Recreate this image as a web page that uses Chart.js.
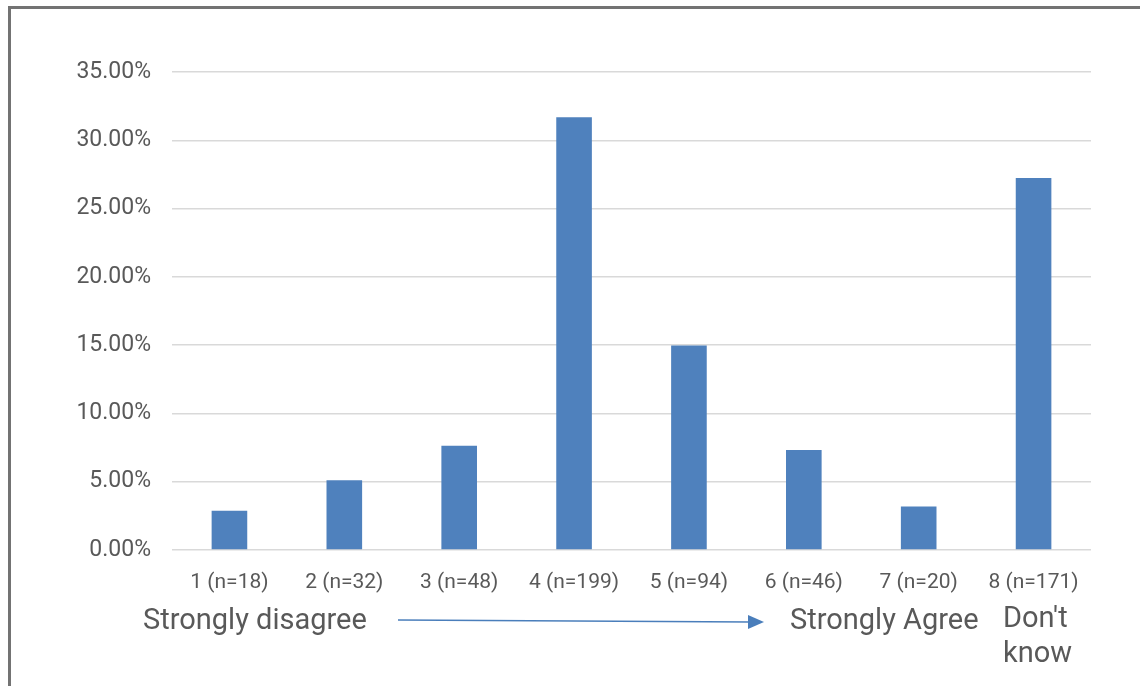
<!DOCTYPE html>
<html>
<head>
<meta charset="utf-8">
<script src="https://cdn.jsdelivr.net/npm/chart.js@4/dist/chart.umd.min.js"></script>
<style>
  html, body { margin: 0; padding: 0; background: #ffffff; }
  #wrap { width: 1140px; height: 686px; position: relative; }
</style>
</head>
<body>
<div id="wrap"><canvas id="c" width="1140" height="686"></canvas></div>
<script>
// Response categories and their share of respondents (%)
const categories = ['1 (n=18)', '2 (n=32)', '3 (n=48)', '4 (n=199)', '5 (n=94)', '6 (n=46)', '7 (n=20)', '8 (n=171)'];
const shares = [2.87, 5.10, 7.64, 31.69, 14.97, 7.32, 3.18, 27.23];
const yTicks = [0, 5, 10, 15, 20, 25, 30, 35];
const scaleNotes = ['Strongly disagree', 'Strongly Agree', "Don't", 'know'];

const FONT = 'Roboto, "Open Sans", sans-serif';
const TEXT = '#595959';
const BAR = '#4f81bd';

// Frame, scale captions and the direction arrow below the axis
const decorations = {
  id: 'decorations',
  afterDraw(chart) {
    const ctx = chart.ctx;
    ctx.save();
    // outer frame
    ctx.strokeStyle = '#737373';
    ctx.lineWidth = 3;
    ctx.beginPath();
    ctx.moveTo(9.5, 700);
    ctx.lineTo(9.5, 7.5);
    ctx.lineTo(1150, 7.5);
    ctx.stroke();

    ctx.fillStyle = TEXT;
    ctx.font = '29px ' + FONT;
    ctx.textBaseline = 'middle';
    ctx.textAlign = 'left';
    ctx.fillText(scaleNotes[0], 143, 622);
    ctx.fillText(scaleNotes[1], 790, 622);
    ctx.fillText(scaleNotes[2], 1003, 620);
    ctx.fillText(scaleNotes[3], 1003, 655);

    // arrow from "disagree" toward "agree"
    ctx.strokeStyle = '#4a7ebb';
    ctx.fillStyle = '#4a7ebb';
    ctx.lineWidth = 1.5;
    ctx.beginPath();
    ctx.moveTo(398, 620);
    ctx.lineTo(750, 622);
    ctx.stroke();
    ctx.beginPath();
    ctx.moveTo(764, 622);
    ctx.lineTo(748, 615);
    ctx.lineTo(748, 629);
    ctx.closePath();
    ctx.fill();
    ctx.restore();
  }
};

new Chart(document.getElementById('c'), {
  type: 'bar',
  data: {
    labels: categories,
    datasets: [{
      data: shares,
      backgroundColor: BAR,
      borderWidth: 0,
      barPercentage: 0.62,
      categoryPercentage: 0.5
    }]
  },
  options: {
    responsive: false,
    animation: false,
    events: [],
    layout: { padding: { left: 0, right: 49, top: 72, bottom: 76 } },
    plugins: { legend: { display: false }, tooltip: { enabled: false } },
    scales: {
      x: {
        grid: { display: false },
        border: { display: false },
        ticks: {
          color: TEXT,
          font: { family: FONT, size: 21 },
          padding: 12,
          maxRotation: 0,
          autoSkip: false
        },
        afterFit(scale) { scale.height = 60; }
      },
      y: {
        min: 0,
        max: 35,
        afterBuildTicks(scale) { scale.ticks = yTicks.map(v => ({ value: v })); },
        grid: { color: '#d9d9d9', lineWidth: 1.5, drawTicks: false },
        border: { display: false },
        ticks: {
          color: TEXT,
          font: { family: FONT, size: 23 },
          padding: 21,
          callback: v => v.toFixed(2) + '%'
        },
        afterFit(scale) { scale.width = 172; }
      }
    }
  },
  plugins: [decorations]
});
</script>
</body>
</html>
